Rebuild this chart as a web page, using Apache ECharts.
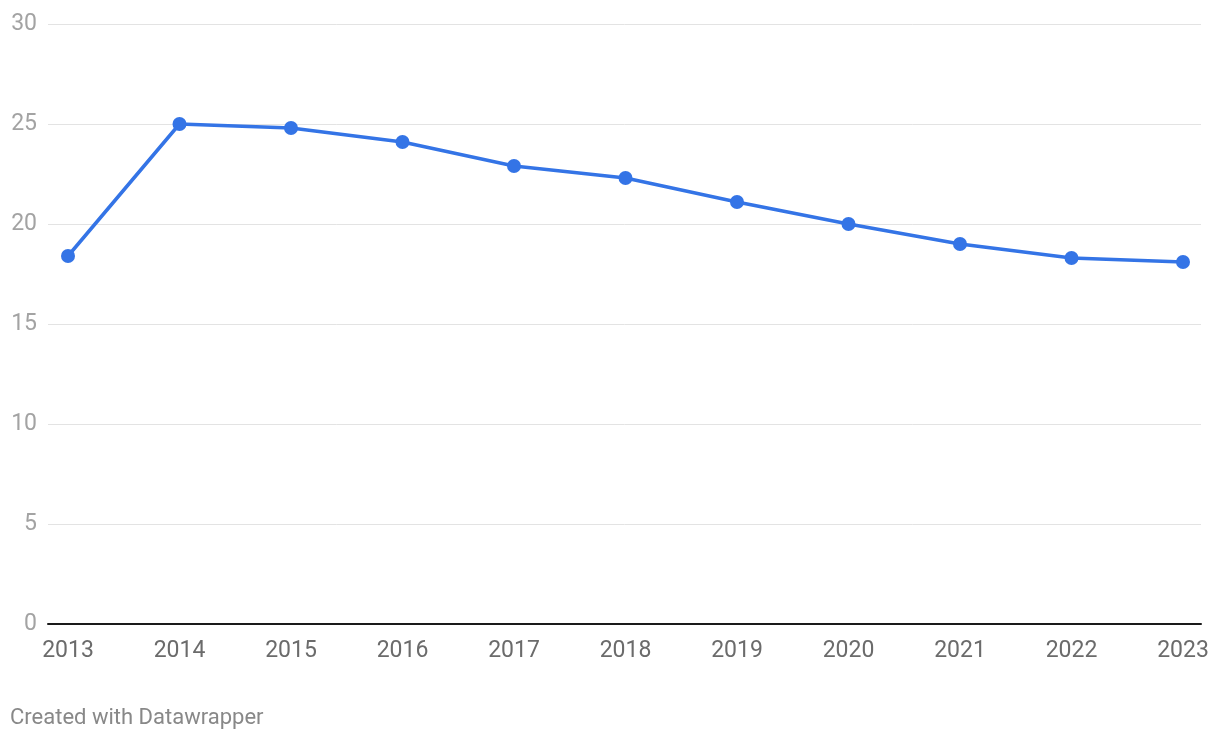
<!DOCTYPE html>
<html>
<head>
<meta charset="utf-8">
<script src="https://cdn.jsdelivr.net/npm/echarts@6/dist/echarts.min.js"></script>
<style>
html,body{margin:0;padding:0;background:#fff;}
#chart{width:1220px;height:740px;}
</style>
</head>
<body>
<div id="chart"></div>
<script>
const years = [2013, 2014, 2015, 2016, 2017, 2018, 2019, 2020, 2021, 2022, 2023];
const values = [18.4, 25.0, 24.8, 24.1, 22.9, 22.3, 21.1, 20.0, 19.0, 18.3, 18.1];
const yTicks = [0, 5, 10, 15, 20, 25, 30];

const chart = echarts.init(document.getElementById('chart'));
chart.setOption({
  backgroundColor: '#ffffff',
  animation: false,
  grid: { left: 48, right: 19, top: 24, bottom: 116, containLabel: false },
  xAxis: {
    type: 'value',
    min: 2012.8206,
    max: 2023.1614,
    axisLine: { show: true, onZero: false, lineStyle: { color: '#1a1a1a', width: 2 } },
    axisTick: { show: false },
    splitLine: { show: false },
    axisLabel: {
      customValues: years,
      formatter: v => String(Math.round(v)),
      color: '#6b6b6b',
      fontFamily: 'Roboto',
      fontSize: 23,
      margin: 16
    }
  },
  yAxis: {
    type: 'value',
    min: 0,
    max: 30,
    interval: 5,
    axisLine: { show: false },
    axisTick: { show: false },
    splitLine: { show: true, lineStyle: { color: '#e3e3e3', width: 1 } },
    axisLabel: {
      customValues: yTicks,
      color: '#a3a3a3',
      fontFamily: 'Roboto',
      fontSize: 23,
      margin: 11,
      padding: [3, 0, 0, 0]
    }
  },
  series: [{
    type: 'line',
    data: years.map((y, i) => [y, values[i]]),
    symbol: 'circle',
    symbolSize: 14,
    lineStyle: { color: '#3474e6', width: 3.5 },
    itemStyle: { color: '#3474e6' },
    z: 3
  }],
  graphic: [{
    type: 'text',
    left: 10,
    top: 707,
    style: {
      text: 'Created with Datawrapper',
      fill: '#888888',
      font: '22px Roboto'
    }
  }]
});
</script>
</body>
</html>
